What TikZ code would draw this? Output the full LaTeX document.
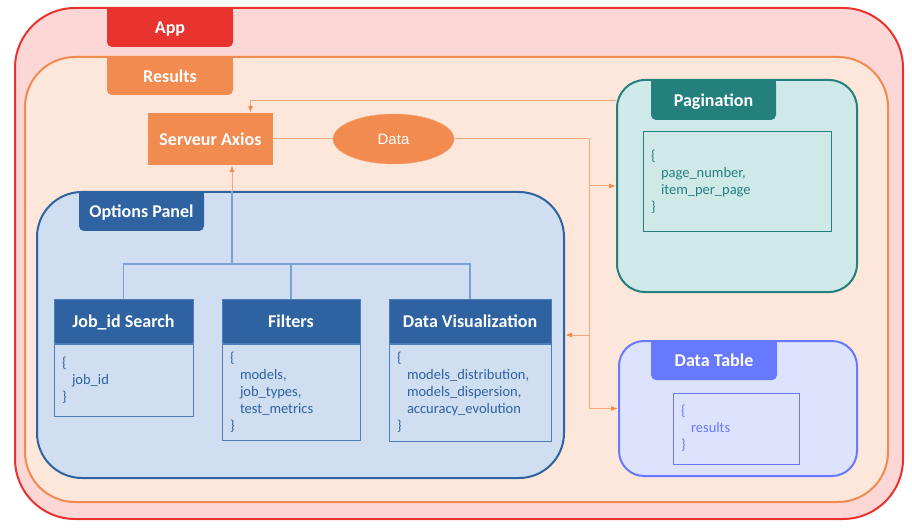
\documentclass[tikz,border=0pt]{standalone}
\usepackage{fontspec}
\setmainfont{Carlito}
\newfontfamily\arialfont{Liberation Sans}
\usetikzlibrary{arrows.meta,shapes.geometric}
\definecolor{appred}{HTML}{E8332E}
\definecolor{appfill}{HTML}{FCD7D6}
\definecolor{resor}{HTML}{F28B4F}
\definecolor{resfill}{HTML}{FDE6DA}
\definecolor{linkor}{HTML}{F6A87C}
\definecolor{optblue}{HTML}{2E62A0}
\definecolor{optline}{HTML}{4F7DBA}
\definecolor{optfill}{HTML}{CFDEF0}
\definecolor{busblue}{HTML}{7A9FD0}
\definecolor{pagteal}{HTML}{24807D}
\definecolor{pagfill}{HTML}{CFE9E9}
\definecolor{dtblue}{HTML}{6679FF}
\definecolor{dtfill}{HTML}{DDE3FC}
\tikzset{
  bigbox/.style={draw=#1, line width=2pt, inner sep=0pt},
  tabbox/.style={fill=#1, rounded corners=5pt, text=white, minimum width=126pt, minimum height=39pt,
    text depth=0pt, font=\bfseries\fontsize{18}{21}\selectfont},
  headbox/.style={fill=optblue, draw=optline, line width=1pt, text=white, minimum height=44pt,
    text depth=0pt, font=\bfseries\fontsize{18}{21}\selectfont},
  codebox/.style={draw=#1, text=#1, line width=1pt, align=left, inner xsep=8pt,
    font=\fontsize{14.5}{17}\selectfont},
  link/.style={draw=linkor, line width=1pt},
  arr/.style={link, -{Latex[length=7pt,width=5pt,color=resor]}},
  bus/.style={draw=busblue, line width=1.5pt}
}
\begin{document}
\begin{tikzpicture}[x=1pt,y=-1pt]
        \useasboundingbox (0,0) rectangle (912,529);
        % containers
        \node[bigbox=appred, fill=appfill, rounded corners=60pt, minimum width=888pt, minimum height=511pt] (App) at (459,263.5) {};
        \fill[appred] (107,7) rectangle (233,28);
        \node[tabbox=appred] (AppT) at (170,27.5) {App};

        \node[bigbox=resor, fill=resfill, rounded corners=50pt, minimum width=863pt, minimum height=445pt] (Res) at (456.5,279.5) {};
        \fill[resor] (107,56) rectangle (233,76);
        \node[tabbox=resor, minimum height=38pt] (ResT) at (170,76) {Results};

        \node[fill=resor, text=white, minimum width=125pt, minimum height=52pt, font=\bfseries\fontsize{18}{21}\selectfont] (Axios) at (210.5,139) {Serveur Axios};
        \node[ellipse, fill=resor, draw=linkor, minimum width=121pt, minimum height=50pt, text=white, font=\arialfont\fontsize{15}{18}\selectfont] (Data) at (393.5,139) {Data};

        \node[bigbox=pagteal, fill=pagfill, rounded corners=28pt, minimum width=240pt, minimum height=212pt] (Pag) at (737,186) {};
        \fill[pagteal] (651,79) rectangle (776,100);
        \node[tabbox=pagteal, minimum width=125pt, minimum height=40pt] (PagT) at (713.5,100) {Pagination};
        \node[codebox=pagteal, text width=172pt, minimum height=100pt] (PagB) at (737,182)
          {\{\\\hspace*{10pt}page\_number,\\\hspace*{10pt}item\_per\_page\\\}};

        \node[bigbox=dtblue, fill=dtfill, rounded corners=25pt, minimum width=238pt, minimum height=135pt] (DT) at (738,408.5) {};
        \fill[dtblue] (651,340) rectangle (777,360);
        \node[tabbox=dtblue] (DTT) at (714,360.5) {Data Table};
        \node[codebox=dtblue, text width=110pt, minimum height=71pt] (DTB) at (736,428.5)
          {\{\\\hspace*{10pt}results\\\}};

        \node[bigbox=optblue, fill=optfill, rounded corners=45pt, minimum width=527pt, minimum height=286pt] (Opt) at (300.5,335) {};
        \fill[optblue] (79,191) rectangle (204,211);
        \node[tabbox=optblue, minimum width=125pt] (OptT) at (141.5,211.5) {Options Panel};

        % option boxes
        \node[headbox, minimum width=139pt] (Job) at (123.5,321) {Job\_id Search};
        \node[codebox=optline, text=optblue, anchor=north, text width=123pt, minimum height=72pt] (JobB) at (Job.south)
          {\{\\\hspace*{10pt}job\_id\\\}};
        \node[headbox, minimum width=138pt] (Filt) at (291,321) {Filters};
        \node[codebox=optline, text=optblue, anchor=north, text width=122pt, minimum height=96pt] (FiltB) at (Filt.south)
          {\{\\\hspace*{10pt}models,\\\hspace*{10pt}job\_types,\\\hspace*{10pt}test\_metrics\\\}};
        \node[headbox, minimum width=162pt] (Viz) at (470,321) {Data Visualization};
        \node[codebox=optline, text=optblue, anchor=north, text width=146pt, minimum height=97pt] (VizB) at (Viz.south)
          {\{\\\hspace*{10pt}models\_distribution,\\\hspace*{10pt}models\_dispersion,\\\hspace*{10pt}accuracy\_evolution\\\}};

        % connectors
        \coordinate (T) at (Pag.west |- 0,101);
        \coordinate (J) at (589,139);
        \coordinate (B) at (232,264);
        \draw[arr] (T) -| ([xshift=40pt]Axios.north);
        \draw[link] (Axios) -- (Data);
        \draw[link] (Data) -- (J);
        \draw[arr] (J) |- (Pag.west);
        \draw[arr] (J) |- (Opt.east);
        \draw[arr] (J) |- (DT.west);
        \draw[bus] (B) -- (B |- Opt.north);
        \draw[arr] (B |- Opt.north) -- (B |- Axios.south);
        \draw[bus] (B) -| (Job.north);
        \draw[bus] (B) -| (Filt.north);
        \draw[bus] (B) -| (Viz.north);
      \end{tikzpicture}
\end{document}
